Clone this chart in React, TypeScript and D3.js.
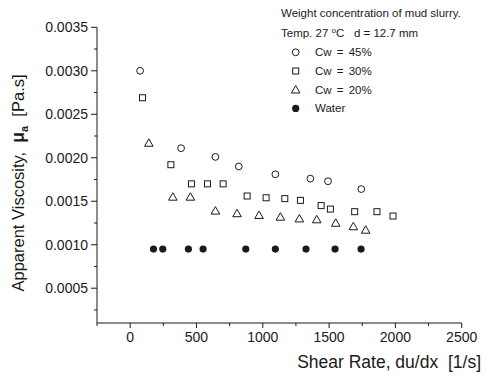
import React from "react";
import * as d3 from "d3";

const W = 487;
const H = 378;

// Apparent viscosity [Pa.s] vs shear rate [1/s]
const cw45X = [75, 384, 643, 819, 1095, 1359, 1492, 1743];
const cw45Y = [0.003, 0.00211, 0.00201, 0.0019, 0.00181, 0.00176, 0.00173, 0.00164];

const cw30X = [93, 307, 462, 583, 701, 882, 1025, 1166, 1284, 1440, 1510, 1693, 1861, 1982];
const cw30Y = [0.00269, 0.00192, 0.0017, 0.0017, 0.0017, 0.00156, 0.00154, 0.00153, 0.00151, 0.00145, 0.00141, 0.00138, 0.00138, 0.00133];

const cw20X = [141, 322, 454, 643, 806, 972, 1133, 1276, 1407, 1550, 1683, 1776];
const cw20Y = [0.00217, 0.00155, 0.00155, 0.00139, 0.00136, 0.00134, 0.00132, 0.0013, 0.00129, 0.00125, 0.00121, 0.00117];

const waterX = [176, 246, 439, 550, 872, 1095, 1326, 1545, 1741];
const waterY = [0.00095, 0.00095, 0.00095, 0.00095, 0.00095, 0.00095, 0.00095, 0.00095, 0.00095];

const xTicks = [0, 500, 1000, 1500, 2000, 2500];
const xMinor = [-250, 250, 750, 1250, 1750, 2250];
const yTicks = [0.0005, 0.001, 0.0015, 0.002, 0.0025, 0.003, 0.0035];
const yMinor = [0.00025, 0.00075, 0.00125, 0.00175, 0.00225, 0.00275, 0.00325];

const legendLabels = ["Cw = 45%", "Cw = 30%", "Cw = 20%", "Water"];

const FONT = "'Liberation Sans', Arial, sans-serif";
const INK = "#1a1a1a";

export default function App() {
  const x = d3.scaleLinear().domain([-250, 2500]).range([97, 461.7]);
  const y = d3.scaleLinear().domain([0.0001, 0.0035]).range([323, 27.3]);
  const fmtY = d3.format(".4f");

  const zip = (xs: number[], ys: number[]) => xs.map((v, i) => [v, ys[i]] as [number, number]);
  const tri = d3.symbol().type(d3.symbolTriangle).size(32)();

  const circle = (cx: number, cy: number, k: string) => (
    <circle key={k} cx={cx} cy={cy} r={3.4} fill="none" stroke={INK} strokeWidth={1} />
  );
  const square = (cx: number, cy: number, k: string) => (
    <rect key={k} x={cx - 3} y={cy - 3} width={6} height={6} fill="none" stroke={INK} strokeWidth={1} />
  );
  const triangle = (cx: number, cy: number, k: string) => (
    <path key={k} d={tri as string} transform={`translate(${cx},${cy + 0.8})`} fill="none" stroke={INK} strokeWidth={1} />
  );
  const dot = (cx: number, cy: number, k: string) => <circle key={k} cx={cx} cy={cy} r={3.6} fill={INK} />;

  const x0 = x.range()[0];
  const yBase = y.range()[0];

  const legendX = 295.7;
  const legendTextX = 315;
  const legendY0 = 52.3;
  const legendStep = 18.7;
  const legendMarks = [circle, square, triangle, dot];

  return (
    <svg
      width={W}
      height={H}
      style={{ position: "absolute", left: 0, top: 0, background: "#fff" }}
      fontFamily={FONT}
    >
      {/* axes */}
      <line x1={x0} x2={x0} y1={y(0.0035)} y2={yBase} stroke={INK} strokeWidth={1} />
      <line x1={x0} x2={x.range()[1]} y1={yBase} y2={yBase} stroke={INK} strokeWidth={1} />

      {yTicks.map((t) => (
        <g key={"yt" + t}>
          <line x1={x0 - 6} x2={x0} y1={y(t)} y2={y(t)} stroke={INK} />
          <text x={x0 - 9} y={y(t)} dy="0.35em" textAnchor="end" fontSize={14} fill={INK}>
            {fmtY(t)}
          </text>
        </g>
      ))}
      {yMinor.map((t) => (
        <line key={"ym" + t} x1={x0 - 3} x2={x0} y1={y(t)} y2={y(t)} stroke={INK} />
      ))}
      {xTicks.map((t) => (
        <g key={"xt" + t}>
          <line x1={x(t)} x2={x(t)} y1={yBase} y2={yBase + 5} stroke={INK} />
          <text x={x(t)} y={342} textAnchor="middle" fontSize={14} fill={INK}>
            {t}
          </text>
        </g>
      ))}
      {xMinor.map((t) => (
        <line key={"xm" + t} x1={x(t)} x2={x(t)} y1={yBase} y2={yBase + 3} stroke={INK} />
      ))}

      {/* axis titles */}
      <text x={481} y={368} textAnchor="end" fontSize={17.5} fill={INK}>
        Shear Rate, du/dx{"\u00a0\u00a0"}[1/s]
      </text>
      <text transform="translate(24,183) rotate(-90)" textAnchor="middle" fontSize={16.5} fill={INK}>
        Apparent Viscosity,{"\u00a0\u00a0"}
        <tspan fontWeight="bold" fontSize={17.5}>μ</tspan>
        <tspan fontWeight="bold" fontSize={11} dy={4}>a</tspan>
        <tspan dy={-4}>{"\u00a0\u00a0"}[Pa.s]</tspan>
      </text>

      {/* data */}
      {zip(cw45X, cw45Y).map(([a, b], i) => circle(x(a), y(b), "c" + i))}
      {zip(cw30X, cw30Y).map(([a, b], i) => square(x(a), y(b), "s" + i))}
      {zip(cw20X, cw20Y).map(([a, b], i) => triangle(x(a), y(b), "t" + i))}
      {zip(waterX, waterY).map(([a, b], i) => dot(x(a), y(b), "w" + i))}

      {/* legend */}
      <text x={281} y={16.5} fontSize={11.5} fill={INK}>
        Weight concentration of mud slurry.
      </text>
      <text x={281} y={37} fontSize={11.5} fill={INK}>
        Temp. 27{" "}
        <tspan fontSize={8} dy={-4.5}>o</tspan>
        <tspan dy={4.5}>C{"\u00a0\u00a0\u00a0"}d = 12.7 mm</tspan>
      </text>
      {legendLabels.map((lab, i) => (
        <g key={"lg" + i}>
          {legendMarks[i](legendX, legendY0 + i * legendStep, "lm" + i)}
          <text
            x={legendTextX}
            y={legendY0 + i * legendStep}
            dy="0.35em"
            fontSize={11.5}
            wordSpacing={2}
            fill={INK}
          >
            {lab}
          </text>
        </g>
      ))}
    </svg>
  );
}
